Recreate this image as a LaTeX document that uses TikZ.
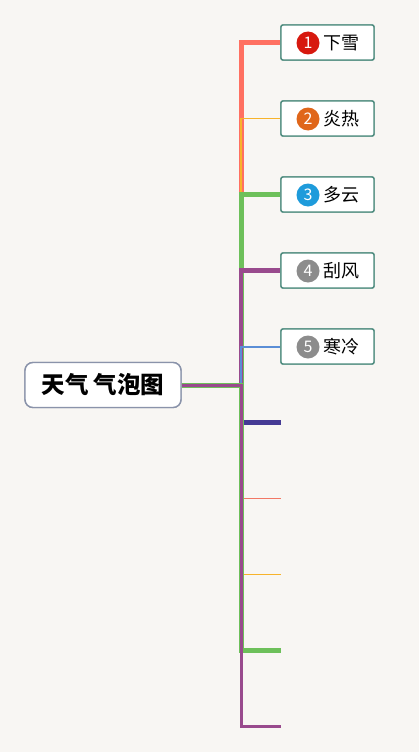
\documentclass[tikz,border=0pt]{standalone}
\usepackage{fontspec}
\newfontfamily\cjk{Noto Sans CJK SC}
\definecolor{bgc}{HTML}{F8F6F3}
\definecolor{boxc}{HTML}{4F8C7F}
\definecolor{rootc}{HTML}{8A93AA}
\definecolor{cred}{HTML}{FF7061}
\definecolor{corange}{HTML}{F7B32B}
\definecolor{cgreen}{HTML}{6DC05A}
\definecolor{cpurple}{HTML}{994A8D}
\definecolor{cblue}{HTML}{5B8ED6}
\definecolor{cindigo}{HTML}{453A94}
\definecolor{csalmon}{HTML}{F27865}
\definecolor{ic1}{HTML}{D7190F}
\definecolor{ic2}{HTML}{E0661A}
\definecolor{ic3}{HTML}{1E9BDB}
\definecolor{ic4}{HTML}{8C8C8C}
\begin{document}
\begin{tikzpicture}[x=1pt,y=-1pt,line join=miter,
  childbox/.style={draw=boxc,line width=1.4pt,fill=white,rounded corners=2pt,minimum width=93pt,minimum height=35pt,inner sep=0pt},
  rootbox/.style={draw=rootc,line width=1.4pt,fill=white,rounded corners=8pt,minimum width=156pt,minimum height=45pt,inner sep=0pt,font=\cjk\bfseries\fontsize{23.5}{23.5}\selectfont},
  icon/.style={circle,fill=#1,minimum size=23pt,inner sep=0pt,text=white,font=\cjk\fontsize{16}{16}\selectfont},
  lbl/.style={font=\cjk\fontsize{18}{18}\selectfont,inner sep=0pt,anchor=center},
  br/.style={draw=#1,line cap=butt}]
\fill[bgc] (0,0) rectangle (419,752);
\useasboundingbox (0,0) rectangle (419,752);

\node[rootbox] (root) at (103,385) {};
\coordinate (j) at (241,385);

% child boxes
\node[childbox] (n1) at (327.5,42.5) {};
\node[childbox] (n2) at (327.5,118.5) {};
\node[childbox] (n3) at (327.5,194.5) {};
\node[childbox] (n4) at (327.5,270.5) {};
\node[childbox] (n5) at (327.5,346.5) {};

% bottom ends
\coordinate (e6) at (281,422.5);
\coordinate (e7) at (281,498.5);
\coordinate (e8) at (281,574.5);
\coordinate (e9) at (281,650.5);
\coordinate (e10) at (281,726.5);

% branches (top)
\draw[br=cred,line width=5pt] (root.east) -- (j) |- (n1.west);
\draw[br=corange,line width=1.5pt] (root.east) -- (j) |- (n2.west);
\draw[br=cgreen,line width=5pt] (root.east) -- (j) |- (n3.west);
\draw[br=cpurple,line width=4.5pt] (root.east) -- (j) |- (n4.west);
\draw[br=cblue,line width=2pt] (root.east) -- (j) |- (n5.west);
% branches (bottom)
\draw[br=cindigo,line width=4.5pt] (root.east) -- (j) |- (e6);
\draw[br=csalmon,line width=1.5pt] (root.east) -- (j) |- (e7);
\draw[br=corange,line width=1.5pt] (root.east) -- (j) |- (e8);
\draw[br=cgreen,line width=5pt] (root.east) -- (j) |- (e9);
\draw[br=cpurple,line width=3pt] (root.east) -- (j) |- (e10);

% boxes drawn over the connector ends
\node[childbox] at (n1) {};
\node[childbox] at (n2) {};
\node[childbox] at (n3) {};
\node[childbox] at (n4) {};
\node[childbox] at (n5) {};
\node[rootbox] (roottext) at (root) {天气 气泡图};

% icons and labels
\node[icon=ic1] (i1) at (308,43) {1};
\node[lbl] (l1) at (341,43) {下雪};
\node[icon=ic2] (i2) at (308,119) {2};
\node[lbl] (l2) at (341,119) {炎热};
\node[icon=ic3] (i3) at (308,195) {3};
\node[lbl] (l3) at (341,195) {多云};
\node[icon=ic4] (i4) at (308,271) {4};
\node[lbl] (l4) at (341,271) {刮风};
\node[icon=ic4] (i5) at (308,347) {5};
\node[lbl] (l5) at (341,347) {寒冷};
\end{tikzpicture}
\end{document}
